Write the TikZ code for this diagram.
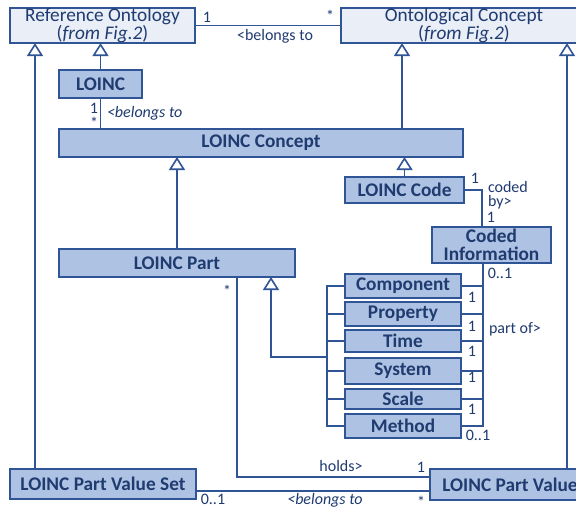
\documentclass[tikz,border=0pt]{standalone}
\usepackage{fontspec}
\setmainfont{Carlito}
\usetikzlibrary{arrows.meta}
\definecolor{ln}{HTML}{2F5597}
\definecolor{tx}{HTML}{1F3B70}
\definecolor{cls}{HTML}{AEC3E3}
\definecolor{lite}{HTML}{E9EEF7}
\begin{document}
\begin{tikzpicture}[x=1pt,y=-1pt,
  every node/.style={text=tx,inner sep=0pt,outer sep=0pt},
  box/.style={draw=ln,line width=2pt,fill=cls,font=\fontsize{19.3}{17.5}\selectfont\bfseries,align=center},
  litebox/.style={draw=ln,line width=2pt,fill=lite,font=\fontsize{19.3}{16.5}\selectfont,align=center},
  lbl/.style={font=\fontsize{16}{13.5}\selectfont},
  conn/.style={draw=ln,line width=1.6pt},
  gen/.style={conn,-{Triangle[open,width=16pt,length=13pt,line width=1.6pt]}}]
\clip (0,0) rectangle (576,507);
\fill[white] (0,0) rectangle (576,507);
% nodes
\node[litebox,minimum width=185pt,minimum height=35pt] (ro) at (102.5,25.5) {Reference Ontology\\(\textit{from Fig.2})};
\node[litebox,minimum width=246pt,minimum height=35pt] (oc) at (464,25.5) {Ontological Concept\\(\textit{from Fig.2})};
\node[box,minimum width=83pt,minimum height=28pt] (loinc) at (100.5,84) {LOINC};
\node[box,minimum width=404pt,minimum height=28pt] (lc) at (261,143) {LOINC Concept};
\node[box,minimum width=236pt,minimum height=28pt] (lp) at (177,263) {LOINC Part};
\node[box,minimum width=119pt,minimum height=26pt] (code) at (404.5,190) {LOINC Code};
\node[box,minimum width=119pt,minimum height=36pt] (ci) at (491.5,245) {Coded\\Information};
\node[box,minimum width=116pt,minimum height=24pt] (comp) at (403,286) {Component};
\node[box,minimum width=116pt,minimum height=24pt] (prop) at (403,314) {Property};
\node[box,minimum width=116pt,minimum height=22pt] (time) at (403,341) {Time};
\node[box,minimum width=116pt,minimum height=26pt] (sys) at (403,371) {System};
\node[box,minimum width=116pt,minimum height=20pt] (scale) at (403,399) {Scale};
\node[box,minimum width=116pt,minimum height=24pt] (meth) at (403,426) {Method};
\node[box,minimum width=186pt,minimum height=30pt] (pvs) at (103,484) {LOINC Part Value Set};
\node[box,minimum width=160pt,minimum height=31pt] (pv) at (510,484.5) {LOINC Part Value};
% helper coordinates
\coordinate (lx) at (35,0);
\coordinate (gx1) at (402,0);
\coordinate (rx) at (567,0);
\coordinate (cb) at (482,0);
\coordinate (rb) at (483,0);
\coordinate (lb) at (327,0);
\coordinate (gy) at (0,357);
\coordinate (gx2) at (271,0);
\coordinate (hx) at (237,0);
\coordinate (hy) at (0,477);
\coordinate (by) at (0,491);
% connectors
\draw[conn] (ro.east) -- (oc.west);
\draw[gen] (loinc.north) -- (loinc.north |- ro.south);
\draw[gen] (pvs.north -| lx) -- (ro.south -| lx);
\draw[conn] (loinc.south) -- (loinc.south |- lc.north);
\draw[gen] (lc.north -| gx1) -- (oc.south -| gx1);
\draw[gen] (pv.north -| rx) -- (oc.south -| rx);
\draw[gen] (lp.north) -- (lp.north |- lc.south);
\draw[gen] (code.north) -- (code.north |- lc.south);
\draw[conn] (code.east) -| (cb |- ci.north);
\draw[conn] (ci.south -| rb) -- (rb |- meth.east) -- (meth.east);
\foreach \n in {comp,prop,time,sys,scale} \draw[conn] (\n.east) -- (\n.east -| rb);
\draw[conn] (comp.west) -- (comp.west -| lb) -- (lb |- meth.west) -- (meth.west);
\foreach \n in {prop,time,sys,scale} \draw[conn] (\n.west) -- (\n.west -| lb);
\draw[gen] (lb |- gy) -| (lp.south -| gx2);
\draw[conn] (lp.south -| hx) |- (pv.west |- hy);
\draw[conn] (pvs.east |- by) -- (pv.west |- by);
% labels
\node[lbl] (l1) at (207,17) {1};
\node[lbl] (l2) at (330,16) {*};
\node[lbl] (l3) at (275,36) {<belongs to};
\node[lbl] (l4) at (94,108) {1};
\node[lbl] (l5) at (94,123) {*};
\node[lbl,anchor=west] (l6) at (107,113) {\textit{<belongs to}};
\node[lbl] (l7) at (475,178) {1};
\node[lbl,anchor=west,align=left] (l8) at (488,195) {coded\\by>};
\node[lbl] (l9) at (491,217) {1};
\node[lbl] (l10) at (500,273) {0..1};
\foreach \y/\k in {297/a,326/b,351/c,377/d,409/e} \node[lbl] (o\k) at (472,\y) {1};
\node[lbl] (l11) at (478,435) {0..1};
\node[lbl] (l12) at (515,329) {part of>};
\node[lbl] (l13) at (227,291) {*};
\node[lbl] (l14) at (341,466) {holds>};
\node[lbl] (l15) at (421,467) {1};
\node[lbl] (l16) at (213,499) {0..1};
\node[lbl] (l17) at (325,500) {\textit{<belongs to}};
\node[lbl] (l18) at (421,502) {*};
\end{tikzpicture}
\end{document}
